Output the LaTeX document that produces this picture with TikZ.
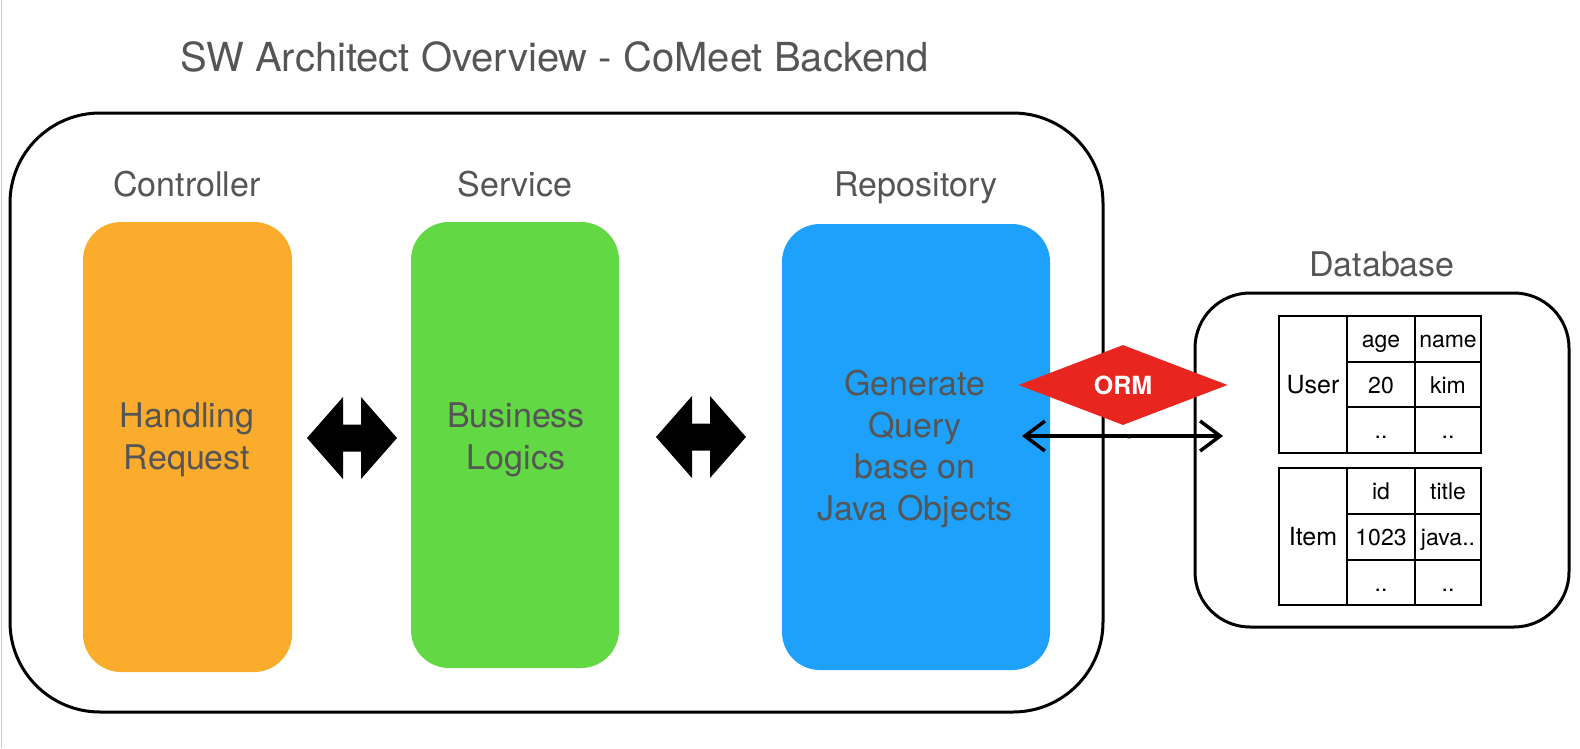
\documentclass[tikz,border=0pt]{standalone}
\usepackage{fontspec}
\setmainfont{TeX Gyre Heros}
\usetikzlibrary{shapes.geometric,arrows.meta,decorations.pathmorphing}
\definecolor{txtgray}{HTML}{555555}
\definecolor{corange}{RGB}{251,172,44}
\definecolor{cgreen}{RGB}{99,216,69}
\definecolor{cblue}{RGB}{29,161,250}
\definecolor{cred}{RGB}{232,38,31}
\definecolor{edgegray}{RGB}{200,200,200}
\begin{document}
\begin{tikzpicture}[x=1pt,y=-1pt,
  lbl/.style={text=txtgray, font=\fontsize{34}{41}\selectfont, inner sep=0pt, text height=0.72em, text depth=0pt},
  boxtext/.style={text=txtgray, font=\fontsize{34}{41.5}\selectfont, inner sep=0pt, align=center},
  layer/.style={rounded corners=38pt, inner sep=0pt},
  frame/.style={draw=black, line width=3pt, inner sep=0pt},
  cell/.style={font=\fontsize{23}{23}\selectfont, inner sep=0pt, text height=0.72em, text depth=0pt},
  tname/.style={font=\fontsize{25}{25}\selectfont, inner sep=0pt, text height=0.72em, text depth=0pt},
  tbl/.style={draw=black, line width=1.5pt},
  dblarrow/.pic={\fill[black] (-45,0) -- (-9,-41) -- (-9,-13.5) -- (9,-13.5) -- (9,-41) -- (45,0) -- (9,41) -- (9,13.5) -- (-9,13.5) -- (-9,41) -- cycle;}
]
\useasboundingbox (0,0) rectangle (1580,748);
\draw[edgegray, line width=1.5pt] (1.5,0) -- (1.5,748);

% title
\node[text=txtgray, font=\fontsize{40}{45}\selectfont, inner sep=0pt, text height=0.72em, text depth=0pt] (title) at (555,68) {SW Architect Overview - CoMeet Backend};

% backend frame
\node[frame, rounded corners=90pt, minimum width=1093pt, minimum height=599pt] (backend) at (556.5,412.5) {};

% layer labels
\node[lbl] (lctrl) at (187,193) {Controller};
\node[lbl] (lserv) at (515,193) {Service};
\node[lbl] (lrepo) at (916,193) {Repository};

% layer boxes
\node[layer, fill=corange, minimum width=209pt, minimum height=450pt] (ctrl) at (187.5,447) {};
\node[layer, fill=cgreen, minimum width=208pt, minimum height=446pt] (serv) at (515,445) {};
\node[layer, fill=cblue, minimum width=268pt, minimum height=446pt] (repo) at (916,447) {};

\node[boxtext] (ctrltxt) at (187,440) {Handling\\Request};
\node[boxtext] (servtxt) at (516,440) {Business\\Logics};
\node[boxtext] (repotxt) at (915,449) {Generate\\Query\\base on\\Java Objects};

% double arrows
\pic (a1) at (352,438) {dblarrow};
\pic (a2) at (701,437) {dblarrow};

% database
\node[lbl] (ldb) at (1382,273) {Database};
\node[frame, rounded corners=55pt, minimum width=374pt, minimum height=334pt] (db) at (1382,460) {};

% ORM
\node[diamond, fill=cred, minimum width=209pt, minimum height=80pt, inner sep=0pt, text=white, font=\bfseries\fontsize{25}{25}\selectfont] (orm) at (1123,385) {ORM};

% sketchy connector
\coordinate (c1) at (1022,436);
\coordinate (c2) at (1223,436);
\draw[line width=3.5pt, line cap=round, {Straight Barb[length=20pt,width=30pt]}-{Straight Barb[length=20pt,width=30pt]}] (c1) -- (c2);
\draw[line width=1.2pt, decorate, decoration={random steps, segment length=2pt, amplitude=1.2pt}] ([xshift=4pt]c1) -- ([xshift=-4pt]c2);

% User table
\draw[tbl] (1279,316) rectangle (1481,453);
\draw[tbl] (1347,316) -- (1347,453) (1415,316) -- (1415,453)
           (1347,362) -- (1481,362) (1347,407) -- (1481,407);
\node[tname] (tuser) at (1313,389.5) {User};
\node[cell] (u11) at (1381,344) {age};
\node[cell] (u12) at (1448,344) {name};
\node[cell] (u21) at (1381,389.5) {20};
\node[cell] (u22) at (1448,389.5) {kim};
\node[cell] (u31) at (1381,435) {..};
\node[cell] (u32) at (1448,435) {..};

% Item table
\draw[tbl] (1279,468) rectangle (1481,605);
\draw[tbl] (1347,468) -- (1347,605) (1415,468) -- (1415,605)
           (1347,514) -- (1481,514) (1347,560) -- (1481,560);
\node[tname] (titem) at (1313,541.5) {Item};
\node[cell] (i11) at (1381,496) {id};
\node[cell] (i12) at (1448,496) {title};
\node[cell] (i21) at (1381,542) {1023};
\node[cell] (i22) at (1448,542) {java..};
\node[cell] (i31) at (1381,587.5) {..};
\node[cell] (i32) at (1448,587.5) {..};
\end{tikzpicture}
\end{document}
